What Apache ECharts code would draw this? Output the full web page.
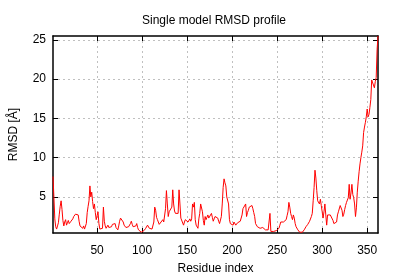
<!DOCTYPE html>
<html>
<head>
<meta charset="utf-8">
<script src="https://cdn.jsdelivr.net/npm/echarts@6/dist/echarts.min.js"></script>
<style>html,body{margin:0;padding:0;background:#fff}#c{width:400px;height:280px}</style>
</head>
<body>
<div id="c"></div>
<script>
const titleText = 'Single model RMSD profile';
const xName = 'Residue index';
const yName = 'RMSD [Å]';
const xTicks = [50, 100, 150, 200, 250, 300, 350];
const yTicks = [5, 10, 15, 20, 25];
const rmsd = [
7.6,5.0,2.2,1.2,0.9,1.3,1.7,2.8,3.8,4.5,
3.4,2.0,1.3,1.8,2.1,1.4,1.7,2.0,1.6,1.4,
1.9,1.7,2.2,2.5,2.4,2.8,2.6,2.9,2.7,1.9,
1.3,1.5,1.2,1.0,1.3,0.9,1.1,1.6,3.0,3.8,
4.5,6.4,5.0,5.6,4.4,3.5,4.1,3.0,2.1,2.6,
3.1,1.6,0.9,0.8,1.1,1.0,3.7,1.9,1.3,1.0,
1.2,1.4,1.1,1.0,1.3,1.2,1.5,1.6,1.4,1.6,
1.1,0.9,0.8,1.3,1.9,2.3,2.2,2.4,1.8,1.4,
1.3,1.1,1.0,1.0,1.2,1.4,1.6,1.9,1.5,1.2,
1.1,1.0,1.3,1.6,1.1,0.8,0.6,0.7,0.5,0.6,
0.4,0.7,0.8,1.0,1.2,1.4,1.3,1.0,1.1,1.1,
0.9,0.7,1.8,3.7,3.3,2.4,2.1,2.1,1.5,1.4,
1.8,2.0,2.1,1.8,1.6,3.5,5.8,4.1,2.5,3.1,
2.9,3.2,3.7,5.9,4.1,3.2,2.9,3.1,3.0,2.9,
5.9,4.1,2.3,2.1,2.3,1.4,1.8,2.1,2.0,2.3,
1.8,1.6,2.2,1.9,2.2,4.1,3.7,4.3,2.1,1.4,
1.2,1.0,2.2,2.9,4.1,4.3,3.1,2.0,1.4,2.5,
2.1,2.4,2.7,2.3,2.1,2.5,2.9,2.4,1.9,2.2,
2.5,2.7,2.5,2.3,1.9,1.6,1.4,2.5,4.1,6.2,
7.3,6.8,6.4,5.0,5.2,4.1,2.1,1.6,1.8,1.7,
1.4,1.8,1.6,1.4,1.5,1.7,1.8,1.6,1.9,2.1,
2.7,3.5,3.7,3.3,4.1,2.5,3.0,3.3,3.7,3.6,
3.7,3.9,3.5,3.0,2.5,1.6,1.4,1.2,1.3,1.4,
1.0,1.1,1.0,1.1,1.2,1.0,0.8,0.7,0.6,0.8,
0.9,2.9,0.6,0.5,0.4,0.6,0.5,0.5,0.7,0.9,
0.8,1.0,1.4,1.8,1.9,1.7,1.8,1.9,2.0,2.1,
2.6,3.1,4.3,3.7,2.9,2.5,2.1,2.7,2.3,1.6,
1.2,1.0,0.8,0.7,0.5,0.4,0.6,0.5,0.7,0.8,
1.0,1.2,1.4,1.5,1.6,1.9,2.1,2.5,2.9,4.5,
6.2,8.4,7.4,5.8,4.5,4.3,4.1,4.7,3.9,3.1,
2.3,3.1,4.1,2.7,1.4,2.7,2.5,2.6,2.7,2.6,
2.5,2.0,1.6,1.6,1.7,1.8,2.7,3.1,2.9,3.9,
3.9,3.3,2.5,2.8,3.4,3.9,4.3,4.6,4.9,6.6,
4.7,5.5,6.6,5.3,4.9,4.1,2.5,3.6,5.6,7.0,
8.2,9.2,10.0,10.7,11.5,13.2,13.9,14.5,15.2,16.2,
15.2,15.5,16.4,17.4,19.9,19.8,19.7,18.9,19.7,20.2,
23.8,25.5
];
const residues = rmsd.map((v, i) => i + 1);

const X_MIN = 1, X_MAX = residues.length;
const Y_MIN = 0.4, Y_MAX = 25.5;
const font = 'Liberation Sans, Arial, Helvetica, sans-serif';
const txt = {color: '#000', fontFamily: font, fontSize: 12};
const border = {show: true, onZero: false, lineStyle: {color: '#000', width: 1.5}};
const tick = (vals) => ({show: true, inside: true, length: 5, customValues: vals, lineStyle: {color: '#000', width: 1}});
const grid = {show: true, lineStyle: {color: '#c0c0c0', type: [2, 3], width: 1}};

const chart = echarts.init(document.getElementById('c'), null, {renderer: 'canvas'});
chart.setOption({
  animation: false,
  backgroundColor: '#fff',
  title: {text: titleText, left: 209, textAlign: 'center', top: 10, textStyle: {...txt, fontWeight: 'normal'}},
  grid: {left: 52, right: 22, top: 36, bottom: 40, containLabel: false},
  xAxis: [
    {type: 'value', min: X_MIN, max: X_MAX, position: 'bottom',
     name: xName, nameLocation: 'middle', nameGap: 30, nameTextStyle: txt,
     axisLine: border, axisTick: tick(xTicks), splitLine: grid,
     axisLabel: {...txt, margin: 12, customValues: xTicks}},
    {type: 'value', min: X_MIN, max: X_MAX, position: 'top',
     axisLine: border, axisTick: tick(xTicks), splitLine: {show: false},
     axisLabel: {show: false, customValues: xTicks}}
  ],
  yAxis: [
    {type: 'value', min: Y_MIN, max: Y_MAX, position: 'left',
     name: yName, nameLocation: 'middle', nameGap: 33, nameRotate: 90, nameTextStyle: txt,
     axisLine: border, axisTick: tick(yTicks), splitLine: grid,
     axisLabel: {...txt, margin: 7, customValues: yTicks}},
    {type: 'value', min: Y_MIN, max: Y_MAX, position: 'right',
     axisLine: border, axisTick: tick(yTicks), splitLine: {show: false},
     axisLabel: {show: false, customValues: yTicks}}
  ],
  series: [{
    type: 'line', xAxisIndex: 0, yAxisIndex: 0,
    data: residues.map((r, i) => [r, rmsd[i]]),
    showSymbol: false, symbol: 'none',
    lineStyle: {color: '#ff0000', width: 1},
    z: 3
  }]
});
</script>
</body>
</html>
